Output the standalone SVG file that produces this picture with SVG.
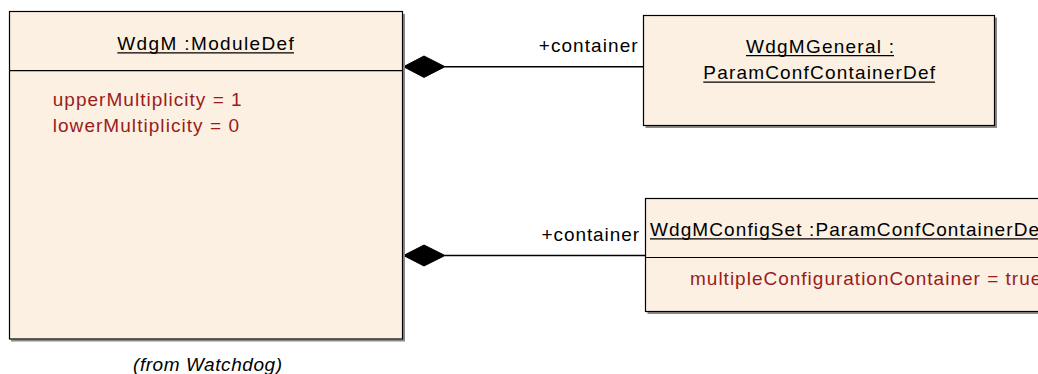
<svg xmlns="http://www.w3.org/2000/svg" width="1038" height="374" viewBox="0 0 1038 374">
<style>
  .box { fill: #FBF0E2; stroke: #000; stroke-width: 1.2; }
  .shadow { fill: none; stroke: #8a8a8a; stroke-width: 2; }
  .div { stroke: #000; stroke-width: 1.2; }
  .ul { stroke: #000; stroke-width: 1.2; }
  .t { font-family: "Liberation Sans", Arial, sans-serif; font-size: 19px; fill: #000; }
  .attr { font-family: "Liberation Sans", Arial, sans-serif; font-size: 19px; fill: #9B1B1B; letter-spacing: 1px; }
  .edge { stroke: #000; stroke-width: 1.5; fill: none; }
  .diamond { fill: #000; stroke: #000; stroke-width: 1; }
</style>
<rect width="1038" height="374" fill="#ffffff"/>
<g id="connectors">
  <line class="edge" x1="445" y1="66.7" x2="643.5" y2="66.7"/>
  <path class="diamond" d="M403.5,66.7 L424,56 L445,66.7 L424,77.4 Z"/>
  <text class="t" x="637.7" y="51.7" text-anchor="end" textLength="99" lengthAdjust="spacing">+container</text>
  <line class="edge" x1="445" y1="255.5" x2="645.5" y2="255.5"/>
  <path class="diamond" d="M403.5,255.5 L424,245 L445,255.5 L424,266 Z"/>
  <text class="t" x="639" y="241" text-anchor="end" textLength="97.5" lengthAdjust="spacing">+container</text>
</g>
<g id="WdgM">
  <path class="shadow" d="M404,14 V340.5 H11"/>
  <rect class="box" x="9.5" y="11.5" width="393" height="327.5"/>
  <line class="div" x1="9.5" y1="70.7" x2="402.5" y2="70.7"/>
  <text class="t" x="117.3" y="50" textLength="176.5" lengthAdjust="spacing">WdgM :ModuleDef</text>
  <line class="ul" x1="117.3" y1="52.8" x2="294" y2="52.8"/>
  <text class="attr" x="52.7" y="106" textLength="190" lengthAdjust="spacing">upperMultiplicity = 1</text>
  <text class="attr" x="52.7" y="131.7" textLength="187.3" lengthAdjust="spacing">lowerMultiplicity = 0</text>
  <text class="t" x="133" y="371" font-style="italic" textLength="149" lengthAdjust="spacing">(from Watchdog)</text>
</g>
<g id="WdgMGeneral">
  <path class="shadow" d="M996,17.5 V127 H645.5"/>
  <rect class="box" x="643.5" y="15.5" width="351" height="110"/>
  <text class="t" x="746" y="52.7" textLength="148" lengthAdjust="spacing">WdgMGeneral :</text>
  <line class="ul" x1="746" y1="55.6" x2="894" y2="55.6"/>
  <text class="t" x="703.3" y="79.3" textLength="231.7" lengthAdjust="spacing">ParamConfContainerDef</text>
  <line class="ul" x1="703.3" y1="82.2" x2="935" y2="82.2"/>
</g>
<g id="WdgMConfigSet">
  <path class="shadow" d="M1040,313 H647.5"/>
  <rect class="box" x="645.5" y="198.5" width="400" height="113"/>
  <line class="div" x1="645.5" y1="257.5" x2="1045" y2="257.5"/>
  <text class="t" x="650" y="236" style="letter-spacing:1.1px">WdgMConfigSet :ParamConfContainerDef</text>
  <line class="ul" x1="650" y1="238.8" x2="1038" y2="238.8"/>
  <text class="attr" x="690" y="285">multipleConfigurationContainer = true</text>
</g>
</svg>
